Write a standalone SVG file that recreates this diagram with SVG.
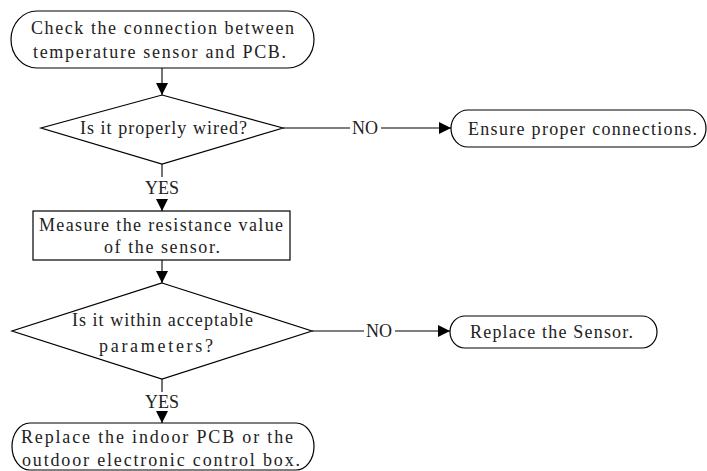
<svg xmlns="http://www.w3.org/2000/svg" width="707" height="471" viewBox="0 0 707 471">
<style>
.s{fill:#fff;stroke:#000;stroke-width:1.2}
.t{font-family:"Liberation Serif",serif;font-size:18px;fill:#222}
.m{text-anchor:middle}
.c{stroke:#000;stroke-width:1.1;fill:none}
</style>
<defs>
<marker id="ah" markerUnits="userSpaceOnUse" markerWidth="12" markerHeight="12" viewBox="0 0 12 12" refX="12" refY="6" orient="auto">
<path d="M0,0 L12,6 L0,12 Z" fill="#000"/>
</marker>
</defs>
<rect width="707" height="471" fill="#fff"/>
<g id="connectors">
<line class="c" x1="162" y1="68" x2="162" y2="95" marker-end="url(#ah)"/>
<line class="c" x1="283" y1="128" x2="350" y2="128"/>
<line class="c" x1="381" y1="128" x2="451" y2="128" marker-end="url(#ah)"/>
<text class="t m" x="365" y="134">NO</text>
<line class="c" x1="162" y1="164" x2="162" y2="177"/>
<text class="t m" x="162" y="194">YES</text>
<line class="c" x1="162" y1="199" x2="162" y2="211" marker-end="url(#ah)"/>
<line class="c" x1="162" y1="260" x2="162" y2="283" marker-end="url(#ah)"/>
<line class="c" x1="312" y1="331" x2="364" y2="331"/>
<line class="c" x1="395" y1="331" x2="450" y2="331" marker-end="url(#ah)"/>
<text class="t m" x="379" y="337">NO</text>
<line class="c" x1="162" y1="379" x2="162" y2="392"/>
<text class="t m" x="162" y="408">YES</text>
<line class="c" x1="162" y1="413" x2="162" y2="423" marker-end="url(#ah)"/>
</g>
<g id="start">
<rect class="s" x="11" y="11" width="303" height="57" rx="26" ry="28.5"/>
<text class="t" x="31" y="34" textLength="263" lengthAdjust="spacing">Check the connection between</text>
<text class="t" x="33" y="58" textLength="253" lengthAdjust="spacing">temperature sensor and PCB.</text>
</g>
<g id="wired">
<polygon class="s" points="162,95 283,128 162,164 41,128"/>
<text class="t" x="80" y="134" textLength="167" lengthAdjust="spacing">Is it properly wired?</text>
</g>
<g id="ensure">
<rect class="s" x="451" y="110" width="255" height="37" rx="17" ry="18.5"/>
<text class="t" x="468" y="135" textLength="229" lengthAdjust="spacing">Ensure proper connections.</text>
</g>
<g id="measure">
<rect class="s" x="33" y="211" width="257" height="49"/>
<text class="t" x="39" y="231" textLength="244" lengthAdjust="spacing">Measure the resistance value</text>
<text class="t" x="104" y="253" textLength="116" lengthAdjust="spacing">of the sensor.</text>
</g>
<g id="within">
<polygon class="s" points="162,283 312,331 162,379 12,331"/>
<text class="t" x="72" y="326" textLength="181" lengthAdjust="spacing">Is it within acceptable</text>
<text class="t" x="99" y="352" textLength="114" lengthAdjust="spacing">parameters?</text>
</g>
<g id="replace-sensor">
<rect class="s" x="450" y="316" width="207" height="32" rx="15" ry="16"/>
<text class="t" x="470" y="338" textLength="163" lengthAdjust="spacing">Replace the Sensor.</text>
</g>
<g id="replace-pcb">
<rect class="s" x="12" y="423" width="302" height="47" rx="18" ry="23.5"/>
<text class="t" x="21" y="443" textLength="272" lengthAdjust="spacing">Replace the indoor PCB or the</text>
<text class="t" x="22" y="466" textLength="278" lengthAdjust="spacing">outdoor electronic control box.</text>
</g>
</svg>
